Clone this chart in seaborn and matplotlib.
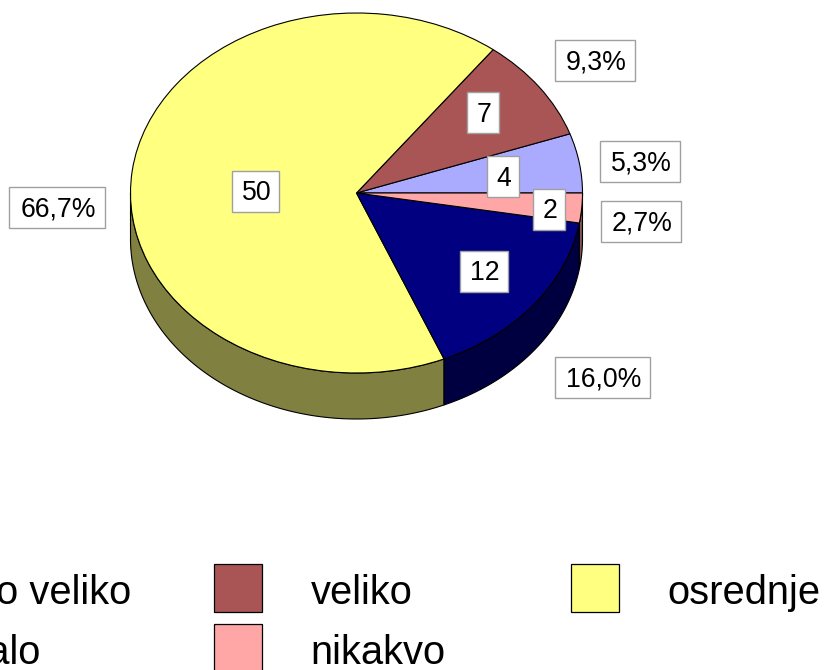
import numpy as np
import matplotlib
matplotlib.use("Agg")
import matplotlib.pyplot as plt
from matplotlib.patches import Rectangle, Polygon
import seaborn as sns

# ---- data ----
categories = ["vrlo veliko", "veliko", "osrednje", "malo", "nikakvo"]
counts = [4, 7, 50, 12, 2]
percent_labels = ["5,3%", "9,3%", "66,7%", "16,0%", "2,7%"]
top_colors = ["#AAAAFF", "#AA5555", "#FFFF80", "#000080", "#FFA6A6"]
wall_colors = ["#555580", "#552B2B", "#808040", "#000040", "#805353"]

W, H = 826, 670
sns.set_theme(style="white")
plt.rcParams["font.family"] = ["Liberation Sans", "DejaVu Sans"]
palette = sns.color_palette(top_colors)

fig = plt.figure(figsize=(W / 100, H / 100), dpi=100, facecolor="white")

# pie box in pixels
CX, CY, RX, RY, DEPTH = 356.5, 193.0, 226.0, 180.0, 46.0

ax = fig.add_axes([(CX - RX) / W, 1 - (CY + RY) / H, 2 * RX / W, 2 * RY / H])
depth_u = DEPTH / RY

# walls below the visible front rim, from the cumulative value angles
edges = np.concatenate([[0], np.cumsum(counts)]) / np.sum(counts) * 360.0
for i in range(len(counts)):
    a0, a1 = max(edges[i], 180.0), min(edges[i + 1], 360.0)
    if a1 <= a0:
        continue
    t = np.radians(np.linspace(a0, a1, 160))
    upper = np.column_stack([np.cos(t), np.sin(t)])
    lower = (upper - [0, depth_u])[::-1]
    ax.add_patch(Polygon(np.vstack([upper, lower]), closed=True,
                         facecolor=wall_colors[i], edgecolor="black",
                         linewidth=0.8, clip_on=False, zorder=1))

wedges, _ = ax.pie(counts, colors=palette, startangle=0, counterclock=True,
                   radius=1.0, wedgeprops=dict(edgecolor="black", linewidth=0.8))
for w in wedges:
    w.set_zorder(2)
    w.set_clip_on(False)
ax.set_aspect("auto")
ax.set_xlim(-1, 1)
ax.set_ylim(-1, 1)
ax.axis("off")

# overlay in pixel coordinates for the text boxes and legend
ov = fig.add_axes([0, 0, 1, 1], facecolor="none")
ov.set_xlim(0, W)
ov.set_ylim(H, 0)
ov.axis("off")


def boxed(text, x0, y0, x1, y1):
    ov.add_patch(Rectangle((x0, y0), x1 - x0, y1 - y0, facecolor="white",
                           edgecolor="#A0A0A0", linewidth=1.0, zorder=5))
    ov.text((x0 + x1) / 2 + 1, (y0 + y1) / 2 + 2, text, ha="center", va="center",
            fontsize=19.2, color="black", zorder=6)


pct_boxes = [(600, 141, 680, 182), (555, 40, 635, 81), (9, 187, 105, 228),
             (555, 357, 650, 398), (601, 201, 681, 242)]
val_boxes = [(487, 156, 519, 197), (467, 92, 499, 133), (232, 171, 279, 212),
             (460, 251, 508, 292), (533, 189, 565, 230)]
for lab, b in zip(percent_labels, pct_boxes):
    boxed(lab, *b)
for v, b in zip(counts, val_boxes):
    boxed(str(v), *b)

# legend, running off the canvas as in the reference
legend_pos = [(-142, 564), (214, 564), (571, 564), (-142, 624), (214, 624)]
legend_order = [0, 1, 2, 3, 4]
for idx, (x, y) in zip(legend_order, legend_pos):
    ov.add_patch(Rectangle((x, y), 48, 48, facecolor=palette[idx],
                           edgecolor="black", linewidth=0.9))
    ov.text(x + 96.5, y + 29, categories[idx], ha="left", va="center",
            fontsize=28.7, color="black")

fig.savefig("out.png", dpi=100, facecolor="white")
